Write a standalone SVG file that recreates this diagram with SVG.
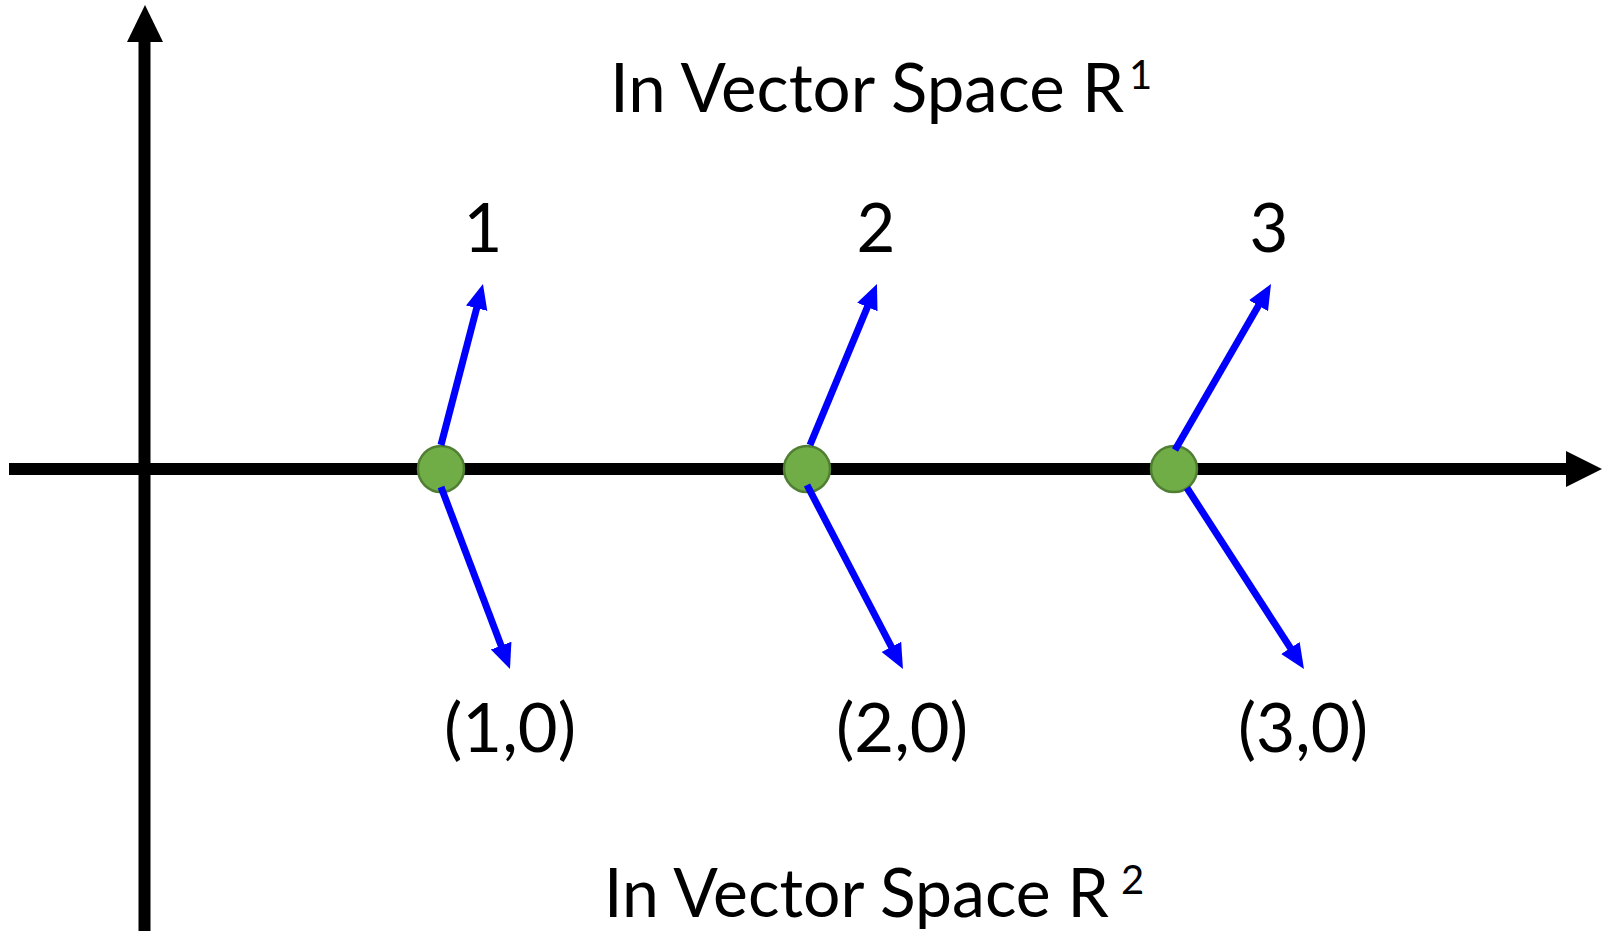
<svg xmlns="http://www.w3.org/2000/svg" width="1605" height="931" viewBox="0 0 1605 931">
<style>
.axis{stroke:#000;stroke-width:12;fill:none}
.vec{stroke:#0000FF;stroke-width:7;fill:none;marker-end:url(#bh)}
.pt{fill:#70AD47;stroke:#507E32;stroke-width:2.5}
.t{font-family:Lato,"Open Sans",sans-serif;fill:#000}
.lbl{font-size:67px;text-anchor:middle}
.title{font-size:68px}
.sup{font-size:40px}
</style>
<defs>
<marker id="bh" markerUnits="userSpaceOnUse" markerWidth="26" markerHeight="24" refX="16" refY="11" orient="auto" viewBox="0 0 26 22">
<path d="M0,0 L25,11 L0,22 Z" fill="#0000FF"/>
</marker>
</defs>
<g id="axes">
<line class="axis" x1="9" y1="469" x2="1568" y2="469"/>
<polygon points="1566,451 1602,469 1566,487" fill="#000"/>
<line class="axis" x1="144.5" y1="931" x2="144.5" y2="40"/>
<polygon points="127,42 145,5 163,42" fill="#000"/>
</g>
<g id="points">
<circle id="p1" class="pt" cx="441" cy="469" r="23"/>
<circle id="p2" class="pt" cx="807" cy="469" r="23"/>
<circle id="p3" class="pt" cx="1174" cy="469" r="23"/>
</g>
<g id="connectors">
<line class="vec" x1="441" y1="445" x2="480.7" y2="292.7"/>
<line class="vec" x1="441" y1="487" x2="506.8" y2="660.6"/>
<line class="vec" x1="810" y1="445" x2="873.5" y2="292.3"/>
<line class="vec" x1="807" y1="485" x2="898.8" y2="661.0"/>
<line class="vec" x1="1175" y1="450" x2="1266.5" y2="291.8"/>
<line class="vec" x1="1187" y1="488" x2="1299.1" y2="661.4"/>
</g>
<g id="labels">
<text class="t lbl" x="483" y="252">1</text>
<text class="t lbl" x="876" y="252">2</text>
<text class="t lbl" x="1269" y="252">3</text>
<text class="t lbl" x="510" y="752" textLength="132" lengthAdjust="spacingAndGlyphs">(1,0)</text>
<text class="t lbl" x="902" y="752" textLength="132" lengthAdjust="spacingAndGlyphs">(2,0)</text>
<text class="t lbl" x="1303" y="752" textLength="130" lengthAdjust="spacingAndGlyphs">(3,0)</text>
</g>
<g id="title-top">
<text class="t title" x="610" y="112"><tspan textLength="514" lengthAdjust="spacingAndGlyphs">In Vector Space R</tspan><tspan class="sup" x="1129" y="89">1</tspan></text>
</g>
<g id="title-bottom">
<text class="t title" x="604" y="917"><tspan textLength="505" lengthAdjust="spacingAndGlyphs">In Vector Space R</tspan><tspan class="sup" x="1121" y="894">2</tspan></text>
</g>
</svg>
